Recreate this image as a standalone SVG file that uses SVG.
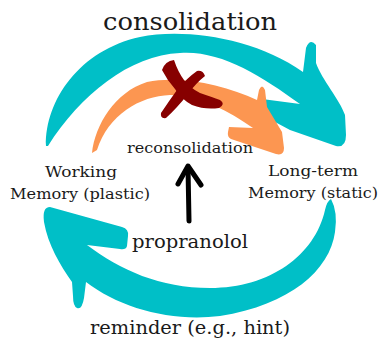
<svg xmlns="http://www.w3.org/2000/svg" width="381" height="342" viewBox="0 0 381 342">
<style>
.t{font-family:"DejaVu Serif","Liberation Serif",serif;fill:#1a1a1a;text-anchor:middle}
.teal{fill:#00BFC7}
.orange{fill:#FC9651}
.xmark{fill:#870000}
</style>
<rect width="381" height="342" fill="#ffffff"/>
<g id="connectors">
<path id="consolidation-arrow" class="teal" d="M46 146 C45 100 80 50 140 37 C185 28 255 38 303 72 L306 48 Q310 38 316 45 L316 63 C322 80 340 100 345 115 L346 135 Q346 148 336 146 L290 130 L262 115 L262 99 L300 104 C260 75 220 50 180 53 C130 55 80 95 48 146 Z"/>
<path id="reconsolidation-arrow" class="orange" d="M92 153 C95 125 115 92 147 82 C180 75 225 85 257 100 L259 90 Q262 83 265 90 L267 107 L282 132 L284 148 Q284 156 276 154 L231 139 Q227 137 228 132 L229 127 L253 128 C230 112 200 95 170 95 C140 96 108 115 97 150 Z"/>
<g id="block-x" class="xmark">
<path d="M162 70 Q165 61 174 60 Q178 72 184 80 Q190 88 200 93 Q212 97 220 100 Q226 104 219 108 Q205 110 192 105 Q181 99 175 89 Q167 80 162 70 Z"/>
<path d="M197 71 Q203 70 205 76 Q196 83 188 94 Q177 108 166 118 Q160 119 161 113 Q169 101 177 90 Q187 78 197 71 Z"/>
</g>
<path id="reminder-arrow" class="teal" d="M331 199 Q338 212 335 232 C330 270 290 305 220 316 C170 322 120 308 86 282 L84 298 Q82 310 77 308 Q73 306 73 296 L72 282 C60 265 48 245 44 222 Q42 207 50 207 L122 227 Q129 229 128 236 L127 246 Q126 250 120 249 L87 245 C120 270 160 288 210 288 C270 288 315 255 325 210 Q327 201 331 199 Z"/>
<g id="propranolol-arrow" fill="none" stroke="#000" stroke-width="5" stroke-linecap="round" stroke-linejoin="round">
<path d="M189 221 L188 168"/>
<path d="M178 184 L188 166 L201 185"/>
</g>
</g>
<g id="label-consolidation"><text class="t" x="190" y="30" font-size="24" textLength="174" lengthAdjust="spacingAndGlyphs">consolidation</text></g>
<g id="label-reconsolidation"><text class="t" x="190" y="153" font-size="14" textLength="126" lengthAdjust="spacingAndGlyphs">reconsolidation</text></g>
<g id="node-working-memory">
<text class="t" x="81" y="177" font-size="15" textLength="72" lengthAdjust="spacingAndGlyphs">Working</text>
<text class="t" x="80" y="199" font-size="15" textLength="140" lengthAdjust="spacingAndGlyphs">Memory (plastic)</text>
</g>
<g id="node-long-term-memory">
<text class="t" x="313" y="176" font-size="15" textLength="90" lengthAdjust="spacingAndGlyphs">Long-term</text>
<text class="t" x="313" y="198" font-size="15" textLength="130" lengthAdjust="spacingAndGlyphs">Memory (static)</text>
</g>
<g id="label-propranolol"><text class="t" x="190" y="248" font-size="19" textLength="116" lengthAdjust="spacingAndGlyphs">propranolol</text></g>
<g id="label-reminder"><text class="t" x="190" y="334" font-size="19" textLength="200" lengthAdjust="spacingAndGlyphs">reminder (e.g., hint)</text></g>
</svg>
